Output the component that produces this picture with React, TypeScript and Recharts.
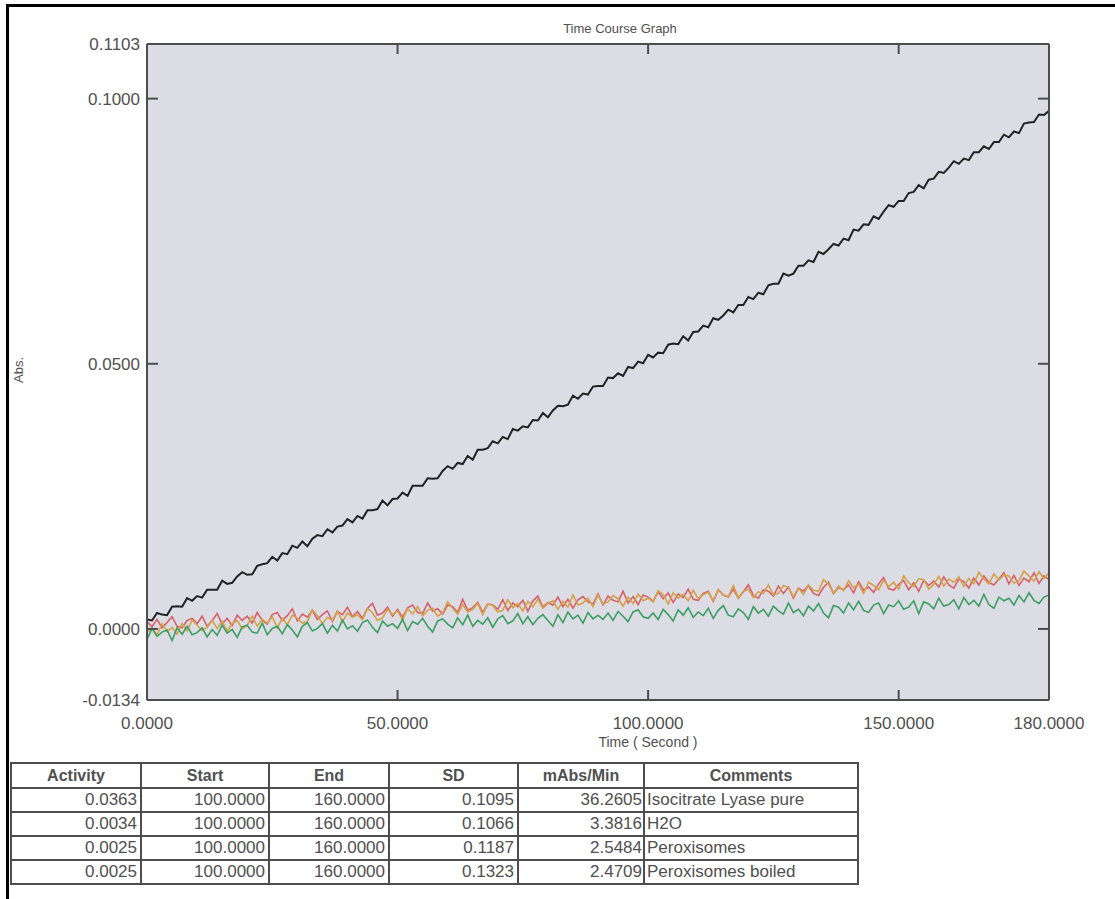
import {CartesianGrid, Line, LineChart, XAxis, YAxis} from 'recharts'

// Time axis, one sample per second
const timeSec = [
	0, 1, 2, 3, 4, 5, 6, 7, 8, 9, 10, 11, 12, 13, 14, 15, 16, 17, 18, 19,
	20, 21, 22, 23, 24, 25, 26, 27, 28, 29, 30, 31, 32, 33, 34, 35, 36, 37, 38, 39,
	40, 41, 42, 43, 44, 45, 46, 47, 48, 49, 50, 51, 52, 53, 54, 55, 56, 57, 58, 59,
	60, 61, 62, 63, 64, 65, 66, 67, 68, 69, 70, 71, 72, 73, 74, 75, 76, 77, 78, 79,
	80, 81, 82, 83, 84, 85, 86, 87, 88, 89, 90, 91, 92, 93, 94, 95, 96, 97, 98, 99,
	100, 101, 102, 103, 104, 105, 106, 107, 108, 109, 110, 111, 112, 113, 114, 115, 116, 117, 118, 119,
	120, 121, 122, 123, 124, 125, 126, 127, 128, 129, 130, 131, 132, 133, 134, 135, 136, 137, 138, 139,
	140, 141, 142, 143, 144, 145, 146, 147, 148, 149, 150, 151, 152, 153, 154, 155, 156, 157, 158, 159,
	160, 161, 162, 163, 164, 165, 166, 167, 168, 169, 170, 171, 172, 173, 174, 175, 176, 177, 178, 179,
	180,
]

// Isocitrate Lyase pure
const lyase = [
	0.0018, 0.0016, 0.003, 0.0027, 0.0026, 0.0042, 0.0043, 0.0042, 0.0058, 0.0053,
	0.0062, 0.0059, 0.0074, 0.0074, 0.0074, 0.0091, 0.0085, 0.0087, 0.0099, 0.0107,
	0.0102, 0.0103, 0.0119, 0.0122, 0.0124, 0.0136, 0.0129, 0.0143, 0.0141, 0.0157,
	0.0153, 0.0165, 0.0156, 0.017, 0.0177, 0.0175, 0.0188, 0.0182, 0.0193, 0.0195,
	0.0207, 0.0201, 0.0213, 0.0208, 0.0224, 0.0224, 0.0226, 0.0242, 0.0233, 0.0245,
	0.0246, 0.0257, 0.0251, 0.027, 0.027, 0.027, 0.0284, 0.0283, 0.0284, 0.0298,
	0.0307, 0.0302, 0.0313, 0.0311, 0.0326, 0.0319, 0.0338, 0.0338, 0.0341, 0.0354,
	0.035, 0.0362, 0.0358, 0.0377, 0.0374, 0.0382, 0.038, 0.0394, 0.0393, 0.0407,
	0.0399, 0.0412, 0.0421, 0.042, 0.0423, 0.044, 0.0434, 0.0444, 0.0442, 0.0457,
	0.0458, 0.0458, 0.0474, 0.0473, 0.0482, 0.0477, 0.0494, 0.0492, 0.0504, 0.0501,
	0.0517, 0.0512, 0.0521, 0.052, 0.0536, 0.0538, 0.0537, 0.0552, 0.0544, 0.056,
	0.0561, 0.0572, 0.0569, 0.0586, 0.0583, 0.0591, 0.0602, 0.0597, 0.0611, 0.0611,
	0.0626, 0.0622, 0.0634, 0.0631, 0.0648, 0.0651, 0.0651, 0.067, 0.0666, 0.067,
	0.0685, 0.0685, 0.0695, 0.0692, 0.0711, 0.0707, 0.0716, 0.0726, 0.0723, 0.0736,
	0.0733, 0.0753, 0.0751, 0.0763, 0.0762, 0.0778, 0.0773, 0.0787, 0.0799, 0.0796,
	0.0807, 0.0807, 0.0822, 0.0824, 0.0837, 0.0831, 0.0847, 0.0849, 0.0862, 0.086,
	0.087, 0.0882, 0.0877, 0.0887, 0.0884, 0.0899, 0.0899, 0.091, 0.0905, 0.0918,
	0.0918, 0.0932, 0.0927, 0.0938, 0.0935, 0.0953, 0.0955, 0.0956, 0.097, 0.0969,
	0.0977,
]

// H2O blank
const h2o = [
	0.0014, 0.0004, 0.0018, 0.0002, 0.0012, 0.0023, 0.0005, 0.0002, 0.0016, 0.002,
	0.001, 0.0024, 0.0005, 0.0016, 0.0029, 0.0009, 0.002, 0.0006, 0.0026, 0.0016,
	0.0024, 0.0011, 0.0031, 0.0016, 0.0009, 0.0027, 0.0031, 0.0016, 0.0025, 0.0038,
	0.0015, 0.0028, 0.0022, 0.0035, 0.0018, 0.0027, 0.0034, 0.0014, 0.0033, 0.0027,
	0.0041, 0.0023, 0.0033, 0.002, 0.0039, 0.0048, 0.0026, 0.003, 0.0041, 0.0024,
	0.0037, 0.0022, 0.004, 0.0045, 0.0031, 0.0029, 0.0049, 0.0034, 0.0038, 0.0028,
	0.0045, 0.0042, 0.0031, 0.0056, 0.0035, 0.004, 0.005, 0.0031, 0.0047, 0.0045,
	0.0037, 0.0055, 0.0035, 0.0049, 0.0042, 0.0054, 0.0033, 0.0053, 0.0062, 0.0041,
	0.005, 0.0045, 0.006, 0.0042, 0.0056, 0.0039, 0.0055, 0.0061, 0.0051, 0.0047,
	0.0066, 0.0045, 0.0062, 0.0054, 0.0051, 0.0071, 0.0049, 0.0061, 0.0046, 0.0064,
	0.006, 0.0052, 0.007, 0.0057, 0.0068, 0.005, 0.0066, 0.0059, 0.0075, 0.0056,
	0.0054, 0.0067, 0.0071, 0.0052, 0.0074, 0.0064, 0.006, 0.0075, 0.0058, 0.007,
	0.0083, 0.0063, 0.0058, 0.0074, 0.0071, 0.0062, 0.0081, 0.0067, 0.0079, 0.0058,
	0.0077, 0.0071, 0.0082, 0.0067, 0.0063, 0.0078, 0.0088, 0.0067, 0.0078, 0.0074,
	0.0083, 0.0068, 0.0089, 0.0073, 0.0079, 0.0069, 0.0085, 0.0097, 0.0076, 0.0073,
	0.0084, 0.0091, 0.0074, 0.0087, 0.0071, 0.0092, 0.0082, 0.009, 0.0079, 0.0098,
	0.0083, 0.0077, 0.0094, 0.0089, 0.0077, 0.0096, 0.0083, 0.01, 0.0088, 0.0083,
	0.0094, 0.0106, 0.0085, 0.0101, 0.0082, 0.0096, 0.0089, 0.0106, 0.0086, 0.01,
	0.0093,
]

// Peroxisomes
const perox = [
	-0.0006, 0.0002, -0.0011, 0.001, -0.0005, 0.0003, -0.001, 0.001, -0.0004, 0.0017,
	0.0007, -0.0003, 0.0003, 0.0016, 0.0001, 0.0015, -0.0004, 0.001, 0.0016, 0,
	0.0007, 0.0024, 0.0005, 0.0018, 0.0011, 0.0023, 0.0002, 0.002, 0.0008, 0.0026,
	0.002, 0.0011, 0.0014, 0.0036, 0.0025, 0.001, 0.0022, 0.0016, 0.0034, 0.0013,
	0.003, 0.0022, 0.0027, 0.0017, 0.0039, 0.003, 0.0016, 0.0021, 0.0037, 0.0027,
	0.0034, 0.0017, 0.0038, 0.0028, 0.0042, 0.0025, 0.0035, 0.0039, 0.0024, 0.003,
	0.0051, 0.0039, 0.0028, 0.0046, 0.0032, 0.0037, 0.0048, 0.0027, 0.0047, 0.0044,
	0.0032, 0.0035, 0.0055, 0.004, 0.0048, 0.0034, 0.0052, 0.0042, 0.0056, 0.0039,
	0.0048, 0.0053, 0.0037, 0.0052, 0.0041, 0.0064, 0.0045, 0.0049, 0.0058, 0.0042,
	0.0064, 0.0047, 0.0051, 0.0063, 0.0057, 0.0043, 0.006, 0.0048, 0.0066, 0.0053,
	0.0058, 0.0051, 0.0072, 0.0065, 0.0047, 0.0068, 0.0058, 0.0065, 0.0053, 0.0073,
	0.0057, 0.0065, 0.0069, 0.0053, 0.0074, 0.0064, 0.0061, 0.0082, 0.0059, 0.0071,
	0.0075, 0.0059, 0.007, 0.0067, 0.0083, 0.0064, 0.0067, 0.0082, 0.0078, 0.0061,
	0.0077, 0.0065, 0.0083, 0.0073, 0.0071, 0.0093, 0.0085, 0.0067, 0.0081, 0.0072,
	0.0091, 0.0078, 0.0085, 0.0067, 0.0088, 0.0082, 0.0074, 0.0092, 0.008, 0.0088,
	0.0075, 0.01, 0.0087, 0.008, 0.0095, 0.0093, 0.0075, 0.0084, 0.0099, 0.0081,
	0.0094, 0.0088, 0.0098, 0.008, 0.0095, 0.0085, 0.0107, 0.0094, 0.0085, 0.0104,
	0.0092, 0.0102, 0.01, 0.0086, 0.0091, 0.0109, 0.01, 0.009, 0.0108, 0.0095,
	0.0106,
]

// Peroxisomes boiled
const boiled = [
	-0.002, 0.0001, -0.0014, -0.0006, -0.0002, -0.0022, 0.0002, -0.001, 0.0005, -0.0011,
	-0.0007, 0.0002, -0.0015, -0.0001, -0.0012, 0.0007, -0.0008, -0.0001, -0.0016, 0.0004,
	0.0007, -0.0006, -0.0008, 0.0011, -0.0011, 0.0001, 0.0005, -0.0009, 0.0008, -0.0002,
	-0.0015, 0.0005, 0.0012, -0.0004, 0.0001, 0.001, -0.0008, 0.0007, -0.0004, 0.0017,
	0, 0.0006, -0.0004, 0.0012, 0.0017, 0.0003, -0.0007, 0.0015, 0.0005, 0.001,
	0.0001, 0.0018, -0.0003, 0.0014, 0.0009, 0.002, 0.0005, -0.0006, 0.0015, 0.0019,
	0.0009, 0.0002, 0.0021, 0.0008, 0.0026, 0.0005, 0.0016, 0.0009, 0.0021, 0.0003,
	0.0019, 0.0025, 0.001, 0.0015, 0.0029, 0.001, 0.0023, 0.0008, 0.002, 0.0027,
	0.0016, 0.0005, 0.0027, 0.0012, 0.0032, 0.0019, 0.0026, 0.0011, 0.0031, 0.0019,
	0.0026, 0.0018, 0.003, 0.0016, 0.0033, 0.0024, 0.0014, 0.0032, 0.0036, 0.0023,
	0.002, 0.003, 0.0018, 0.0037, 0.0027, 0.0015, 0.0036, 0.0026, 0.004, 0.0022,
	0.0032, 0.0025, 0.0039, 0.002, 0.0035, 0.0044, 0.0026, 0.0023, 0.0038, 0.0031,
	0.0018, 0.0042, 0.003, 0.0037, 0.0024, 0.0043, 0.0034, 0.0028, 0.0049, 0.0031,
	0.0037, 0.0025, 0.0043, 0.0034, 0.0048, 0.003, 0.0021, 0.0044, 0.0041, 0.003,
	0.0049, 0.0036, 0.0052, 0.0035, 0.0031, 0.0045, 0.0049, 0.0029, 0.0045, 0.0042,
	0.0053, 0.0037, 0.0041, 0.0053, 0.0029, 0.0051, 0.0047, 0.0038, 0.0058, 0.0043,
	0.0046, 0.0055, 0.0038, 0.0059, 0.0046, 0.0054, 0.0043, 0.0065, 0.0046, 0.0039,
	0.006, 0.0053, 0.0058, 0.0045, 0.0063, 0.0051, 0.0068, 0.0054, 0.0048, 0.006,
	0.0064,
]

const xTicks = [0, 50, 100, 150, 180]
const yTicks = [-0.0134, 0, 0.05, 0.1, 0.1103]
const innerXTicks = [50, 100, 150]
const innerYTicks = [0, 0.05, 0.1]

// Results table
const colHeaders = ['Activity', 'Start', 'End', 'SD', 'mAbs/Min', 'Comments']
const activity = [0.0363, 0.0034, 0.0025, 0.0025]
const startSec = [100, 100, 100, 100]
const endSec = [160, 160, 160, 160]
const sd = [0.1095, 0.1066, 0.1187, 0.1323]
const mAbsPerMin = [36.2605, 3.3816, 2.5484, 2.4709]
const comments = ['Isocitrate Lyase pure', 'H2O', 'Peroxisomes', 'Peroxisomes boiled']

const colWidths = [130, 128, 120, 129, 126, 214]

const data = timeSec.map((t, i) => ({t, lyase: lyase[i], h2o: h2o[i], perox: perox[i], boiled: boiled[i]}))

const FONT = '"Liberation Sans", Arial, sans-serif'
const FRAME = '#4d4d4d'
const TEXT = '#505050'
const ABS_DOMAIN: [number, number] = [-0.0134, 0.1103]
const TICK_MARGIN = 7

// chart layout
const CHART_W = 1115
const CHART_H = 760
const MARGIN = {top: 44, right: 6, bottom: 20, left: 67}
const LEFT_AXIS_W = 80
const RIGHT_AXIS_W = 60
const PLOT_W = CHART_W - MARGIN.left - MARGIN.right - LEFT_AXIS_W - RIGHT_AXIS_W

const fmt4 = (v: number) => v.toFixed(4)

// Right axis draws the inward tick marks on both sides of the frame.
// (x, y) is its label anchor; the right axis line sits TICK_MARGIN to the left of it.
function FrameYTick(props: any) {
	const {x, y, payload} = props
	if (!innerYTicks.includes(payload.value)) return null
	const rightX = x - TICK_MARGIN
	const leftX = rightX - PLOT_W
	return (
		<g>
			<path d={`M${rightX},${y}h-11`} stroke={FRAME} strokeWidth={2} fill='none' />
			<path d={`M${leftX},${y}h11`} stroke={FRAME} strokeWidth={2} fill='none' />
		</g>
	)
}

const hiddenTick = {fill: 'none', fontSize: 1}

const cell: React.CSSProperties = {
	border: `2px solid ${FRAME}`,
	padding: '0 3px',
	height: 22,
	whiteSpace: 'nowrap',
	overflow: 'hidden',
}

export default function App() {
	return (
		<div style={{position: 'absolute', left: 0, top: 0, width: 1115, height: 899, background: '#fff', fontFamily: FONT, color: TEXT}}>
			{/* page frame */}
			<div style={{position: 'absolute', left: 6, top: 4, width: 1109, height: 3, background: '#000'}} />
			<div style={{position: 'absolute', left: 6, top: 4, width: 3, height: 895, background: '#000'}} />

			<div style={{position: 'absolute', left: 0, top: 21, width: 1240, textAlign: 'center', fontSize: 13}}>Time Course Graph</div>
			<div
				style={{position: 'absolute', left: 18, top: 370, fontSize: 13, transform: 'translate(-50%, -50%) rotate(-90deg)'}}
			>
				Abs.
			</div>
			<div style={{position: 'absolute', left: 548, top: 734, width: 200, textAlign: 'center', fontSize: 14}}>Time ( Second )</div>

			<div style={{position: 'absolute', left: 0, top: 0}}>
				<LineChart width={CHART_W} height={CHART_H} data={data} margin={MARGIN}>
					<CartesianGrid xAxisId='t' yAxisId='abs' fill='#dcdce4' stroke='none' horizontal={false} vertical={false} />
					<XAxis
						xAxisId='t'
						dataKey='t'
						type='number'
						domain={[0, 180]}
						ticks={xTicks}
						interval={0}
						allowDataOverflow
						tickFormatter={fmt4}
						tickLine={false}
						tickSize={0}
						tickMargin={17}
						height={40}
						axisLine={{stroke: FRAME, strokeWidth: 2}}
						tick={{fontSize: 17, fill: TEXT, fontFamily: FONT}}
					/>
					<XAxis
						xAxisId='tBottom'
						type='number'
						orientation='bottom'
						mirror
						domain={[0, 180]}
						ticks={innerXTicks}
						interval={0}
						tick={hiddenTick}
						tickSize={10}
						axisLine={false}
						tickLine={{stroke: FRAME, strokeWidth: 2}}
					/>
					<XAxis
						xAxisId='tTop'
						type='number'
						orientation='top'
						mirror
						domain={[0, 180]}
						ticks={innerXTicks}
						interval={0}
						tick={hiddenTick}
						tickSize={10}
						axisLine={{stroke: FRAME, strokeWidth: 2}}
						tickLine={{stroke: FRAME, strokeWidth: 2}}
					/>
					<YAxis
						yAxisId='abs'
						type='number'
						domain={ABS_DOMAIN}
						ticks={yTicks}
						interval={0}
						allowDataOverflow
						tickFormatter={fmt4}
						tickLine={false}
						tickSize={0}
						tickMargin={TICK_MARGIN}
						width={LEFT_AXIS_W}
						axisLine={{stroke: FRAME, strokeWidth: 2}}
						tick={{fontSize: 17, fill: TEXT, fontFamily: FONT}}
					/>
					<YAxis
						yAxisId='absRight'
						type='number'
						orientation='right'
						domain={ABS_DOMAIN}
						ticks={yTicks}
						interval={0}
						allowDataOverflow
						tickLine={false}
						tickSize={0}
						tickMargin={TICK_MARGIN}
						width={RIGHT_AXIS_W}
						axisLine={{stroke: FRAME, strokeWidth: 2}}
						tick={<FrameYTick />}
					/>
					<Line xAxisId='t' yAxisId='abs' type='linear' dataKey='h2o' stroke='#d8606a' strokeWidth={1.6} dot={false} isAnimationActive={false} />
					<Line xAxisId='t' yAxisId='abs' type='linear' dataKey='perox' stroke='#d4a24a' strokeWidth={1.6} dot={false} isAnimationActive={false} />
					<Line xAxisId='t' yAxisId='abs' type='linear' dataKey='boiled' stroke='#3c9e62' strokeWidth={1.6} dot={false} isAnimationActive={false} />
					<Line xAxisId='t' yAxisId='abs' type='linear' dataKey='lyase' stroke='#222' strokeWidth={2} dot={false} isAnimationActive={false} />
				</LineChart>
			</div>

			<table
				style={{
					position: 'absolute',
					left: 10,
					top: 762,
					borderCollapse: 'collapse',
					tableLayout: 'fixed',
					fontSize: 17,
					fontFamily: FONT,
					color: TEXT,
				}}
			>
				<colgroup>
					{colWidths.map((w, i) => (
						<col key={i} style={{width: w}} />
					))}
				</colgroup>
				<thead>
					<tr>
						{colHeaders.map(h => (
							<th key={h} style={{...cell, height: 23, textAlign: 'center', fontWeight: 'bold', fontSize: 16}}>
								{h}
							</th>
						))}
					</tr>
				</thead>
				<tbody>
					{comments.map((c, i) => (
						<tr key={i}>
							<td style={{...cell, textAlign: 'right'}}>{activity[i].toFixed(4)}</td>
							<td style={{...cell, textAlign: 'right'}}>{startSec[i].toFixed(4)}</td>
							<td style={{...cell, textAlign: 'right'}}>{endSec[i].toFixed(4)}</td>
							<td style={{...cell, textAlign: 'right'}}>{sd[i].toFixed(4)}</td>
							<td style={{...cell, textAlign: 'right', paddingRight: 1}}>{mAbsPerMin[i].toFixed(4)}</td>
							<td style={{...cell, textAlign: 'left', paddingLeft: 2}}>{c}</td>
						</tr>
					))}
				</tbody>
			</table>
		</div>
	)
}
